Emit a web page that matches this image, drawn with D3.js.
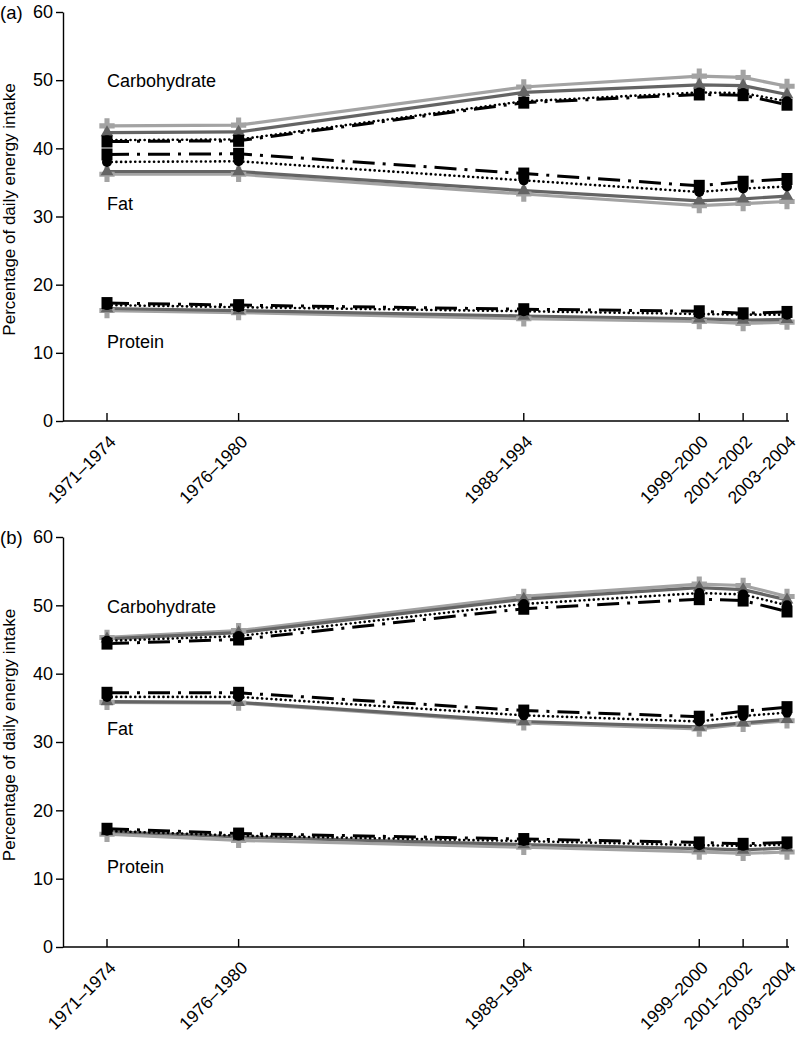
<!DOCTYPE html>
<html>
<head>
<meta charset="utf-8">
<script src="https://cdn.jsdelivr.net/npm/d3@7"></script>
<style>
  body { margin: 0; background: #fff; }
  svg { display: block; font-family: "Liberation Sans", Arial, sans-serif; }
</style>
</head>
<body>
<svg id="chart" width="801" height="1038"></svg>
<script>
// ---------- data ----------
const periods = ["1971–1974", "1976–1980", "1988–1994", "1999–2000", "2001–2002", "2003–2004"];
const periodMidYear = [1972.5, 1978.5, 1991.5, 1999.5, 2001.5, 2003.5];
const yTicks = [0, 10, 20, 30, 40, 50, 60];

// Panel (a)
const carbA_plus = [43.3, 43.4, 49.0, 50.6, 50.4, 49.1];
const carbA_tri  = [42.3, 42.4, 48.2, 49.3, 49.2, 47.9];
const carbA_circ = [41.2, 41.3, 46.9, 48.2, 48.1, 46.9];
const carbA_sq   = [41.0, 41.1, 46.7, 47.9, 47.8, 46.4];
const fatA_plus  = [36.2, 36.2, 33.3, 31.6, 31.9, 32.2];
const fatA_tri   = [36.6, 36.6, 33.8, 32.3, 32.6, 33.0];
const fatA_circ  = [38.0, 38.1, 35.3, 33.6, 34.1, 34.4];
const fatA_sq    = [39.1, 39.2, 36.3, 34.5, 35.1, 35.5];
const protA_plus = [16.2, 15.9, 15.0, 14.6, 14.3, 14.5];
const protA_tri  = [16.5, 16.2, 15.4, 15.0, 14.8, 14.9];
const protA_circ = [17.0, 16.7, 16.1, 15.7, 15.6, 15.6];
const protA_sq   = [17.3, 17.0, 16.4, 16.1, 15.8, 16.0];

// Panel (b)
const carbB_plus = [45.3, 46.3, 51.3, 53.1, 52.9, 51.3];
const carbB_tri  = [45.1, 46.0, 50.9, 52.6, 52.3, 50.8];
const carbB_circ = [44.8, 45.5, 50.2, 51.8, 51.6, 50.0];
const carbB_sq   = [44.4, 45.0, 49.5, 50.9, 50.7, 49.1];
const fatB_plus  = [35.8, 35.7, 32.8, 31.9, 32.6, 33.1];
const fatB_tri   = [35.9, 35.8, 33.0, 32.2, 32.8, 33.3];
const fatB_circ  = [36.6, 36.6, 33.9, 33.0, 33.8, 34.3];
const fatB_sq    = [37.2, 37.2, 34.6, 33.7, 34.5, 35.1];
const protB_plus = [16.5, 15.6, 14.6, 13.9, 13.7, 13.9];
const protB_tri  = [16.9, 16.1, 15.0, 14.4, 14.2, 14.5];
const protB_circ = [17.0, 16.3, 15.5, 14.9, 14.8, 15.0];
const protB_sq   = [17.3, 16.6, 15.8, 15.3, 15.1, 15.3];

const nutrientLabels = ["Carbohydrate", "Fat", "Protein"];

// ---------- styles ----------
const styles = {
  plus: { color: "#a3a3a3", width: 3.2, dash: null },
  tri:  { color: "#646464", width: 3.2, dash: null },
  circ: { color: "#000", width: 2.6, dash: "0.1,4.6", cap: "round" },
  sq:   { color: "#000", width: 3, dash: "22,8,3,8" }
};

const svg = d3.select("#chart");

const x = d3.scaleLinear().domain([1972.5, 2003.5]).range([107, 787]);

function drawPanel(cfg) {
  const y = d3.scaleLinear().domain([0, 60]).range([cfg.bottom, cfg.top]);
  const g = svg.append("g");

  // y axis
  const yAxis = d3.axisLeft(y).tickValues(yTicks).tickSize(7).tickSizeOuter(0).tickPadding(3);
  const ya = g.append("g").attr("transform", "translate(63,0)").call(yAxis);
  ya.select(".domain").attr("stroke", "#000").attr("stroke-width", 1.4);
  ya.selectAll(".tick line").attr("stroke", "#000").attr("stroke-width", 1.4);
  ya.selectAll(".tick text").attr("font-size", 18).attr("fill", "#000")
    .attr("font-family", "Liberation Sans, Arial, sans-serif");

  // x axis (ticks inward)
  g.append("line").attr("x1", 63).attr("x2", 789).attr("y1", y(0)).attr("y2", y(0))
    .attr("stroke", "#000").attr("stroke-width", 1.4);
  const xa = g.append("g").attr("transform", `translate(0,${y(0)})`);
  periodMidYear.forEach((yr, i) => {
    xa.append("line").attr("x1", x(yr)).attr("x2", x(yr)).attr("y1", 0).attr("y2", -8)
      .attr("stroke", "#000").attr("stroke-width", 1.4);
    xa.append("text")
      .attr("transform", `translate(${x(yr) + 1},${13}) rotate(-45)`)
      .attr("text-anchor", "end").attr("dy", "0.72em")
      .attr("font-size", 17.5).attr("fill", "#000")
      .text(periods[i]);
  });

  // axis title
  g.append("text")
    .attr("transform", `translate(${15},${(cfg.top + cfg.bottom) / 2 - 7}) rotate(-90)`)
    .attr("text-anchor", "middle").attr("font-size", 17).attr("fill", "#000")
    .text("Percentage of daily energy intake");

  // panel letter
  g.append("text").attr("x", 0).attr("y", cfg.top + 7).attr("font-size", 18.5).attr("fill", "#000")
    .text(cfg.letter);

  const line = d3.line().x((d, i) => x(periodMidYear[i])).y(d => y(d));

  const order = ["plus", "tri", "circ", "sq"];
  cfg.groups.forEach(grp => {
    order.forEach(key => {
      const st = styles[key];
      g.append("path").datum(grp[key]).attr("d", line)
        .attr("fill", "none").attr("stroke", st.color).attr("stroke-width", st.width)
        .attr("stroke-dasharray", st.dash).attr("stroke-linecap", st.cap || "butt");
    });
  });
  cfg.groups.forEach(grp => {
    order.forEach(key => {
      const mg = g.append("g");
      grp[key].forEach((v, i) => {
        const cx = x(periodMidYear[i]), cy = y(v);
        if (key === "plus") {
          mg.append("path").attr("d", d3.symbol(d3.symbolCross, 130)())
            .attr("transform", `translate(${cx},${cy})`).attr("fill", styles.plus.color);
        } else if (key === "tri") {
          mg.append("path").attr("d", d3.symbol(d3.symbolTriangle, 70)())
            .attr("transform", `translate(${cx},${cy})`).attr("fill", styles.tri.color);
        } else if (key === "circ") {
          mg.append("circle").attr("cx", cx).attr("cy", cy).attr("r", 5).attr("fill", "#000");
        } else {
          mg.append("rect").attr("x", cx - 5.5).attr("y", cy - 6).attr("width", 11).attr("height", 12)
            .attr("fill", "#000");
        }
      });
    });
  });

  cfg.labelY.forEach((ly, i) => {
    g.append("text").attr("x", 107).attr("y", ly).attr("font-size", 18).attr("fill", "#000")
      .text(nutrientLabels[i]);
  });
}

drawPanel({
  letter: "(a)", top: 12, bottom: 421,
  labelY: [87, 210, 348],
  groups: [
    { plus: carbA_plus, tri: carbA_tri, circ: carbA_circ, sq: carbA_sq },
    { plus: fatA_plus, tri: fatA_tri, circ: fatA_circ, sq: fatA_sq },
    { plus: protA_plus, tri: protA_tri, circ: protA_circ, sq: protA_sq }
  ]
});
drawPanel({
  letter: "(b)", top: 537, bottom: 947,
  labelY: [613, 735, 873],
  groups: [
    { plus: carbB_plus, tri: carbB_tri, circ: carbB_circ, sq: carbB_sq },
    { plus: fatB_plus, tri: fatB_tri, circ: fatB_circ, sq: fatB_sq },
    { plus: protB_plus, tri: protB_tri, circ: protB_circ, sq: protB_sq }
  ]
});
</script>
</body>
</html>
